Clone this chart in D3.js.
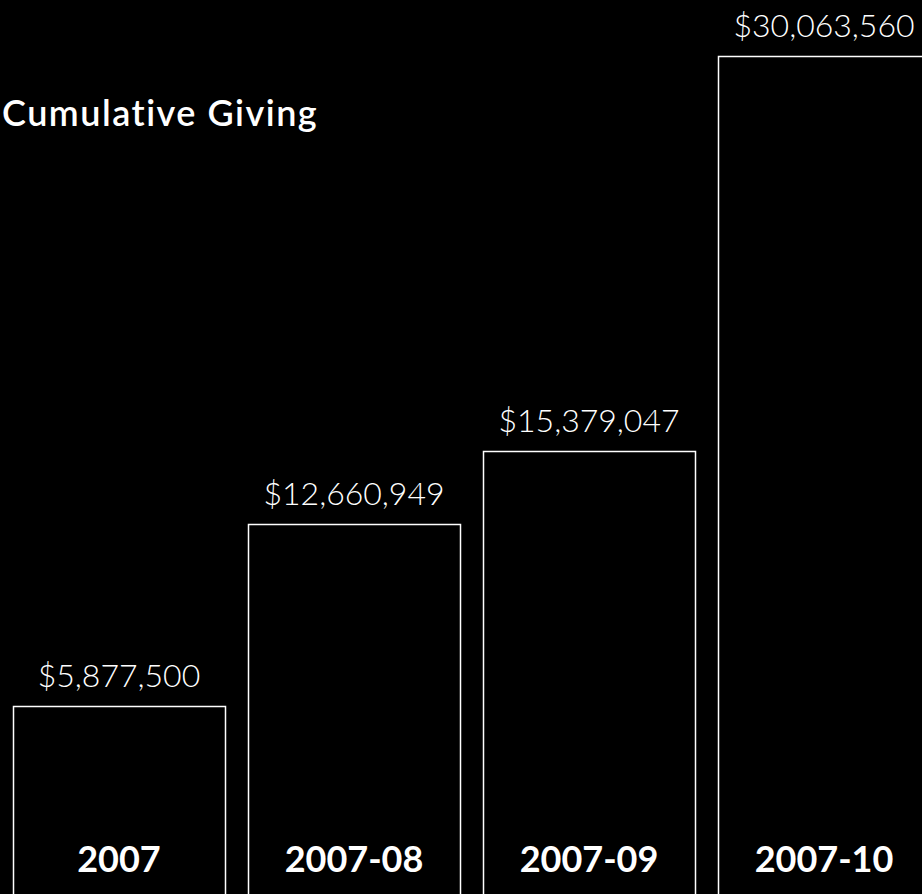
<!DOCTYPE html>
<html>
<head>
<meta charset="utf-8">
<script src="https://cdn.jsdelivr.net/npm/d3@7"></script>
<style>
  html, body { margin: 0; padding: 0; background: #000; }
  svg { display: block; }
</style>
</head>
<body>
<div id="chart"></div>
<script>
const categories = ["2007", "2007-08", "2007-09", "2007-10"];
const totals = [5877500, 12660949, 15379047, 30063560];
const valueLabels = ["$5,877,500", "$12,660,949", "$15,379,047", "$30,063,560"];

const width = 922, height = 894;

const svg = d3.select("#chart").append("svg")
  .attr("width", width)
  .attr("height", height)
  .style("background", "#000");

// last bar runs off the right edge, all bars run off the bottom
const x = d3.scaleBand()
  .domain(categories)
  .range([13, 930])
  .paddingInner(0.098)
  .paddingOuter(0);

const y = d3.scaleLinear()
  .domain([0, d3.max(totals)])
  .range([864, 56]);

const bottom = height + 20;

svg.append("text")
  .attr("x", 2)
  .attr("y", 126)
  .attr("fill", "#fff")
  .style("font-family", "Lato, 'Open Sans', sans-serif")
  .style("font-weight", 600)
  .style("font-size", "36px")
  .style("letter-spacing", "1.5px")
  .text("Cumulative Giving");

const bar = svg.append("g")
  .selectAll("g")
  .data(categories)
  .join("g");

bar.append("rect")
  .attr("x", d => Math.round(x(d)) + 0.5)
  .attr("y", (d, i) => Math.round(y(totals[i])) + 0.5)
  .attr("width", Math.round(x.bandwidth()))
  .attr("height", (d, i) => bottom - y(totals[i]))
  .attr("fill", "#000")
  .attr("stroke", "#fff")
  .attr("stroke-width", 1.5);

bar.append("text")
  .attr("x", d => x(d) + x.bandwidth() / 2)
  .attr("y", (d, i) => y(totals[i]) - 19)
  .attr("text-anchor", "middle")
  .attr("fill", "#fff")
  .style("font-family", "Lato, 'Open Sans', sans-serif")
  .style("font-weight", 300)
  .style("font-size", "32px")
  .text((d, i) => valueLabels[i]);

bar.append("text")
  .attr("x", d => x(d) + x.bandwidth() / 2)
  .attr("y", 872)
  .attr("text-anchor", "middle")
  .attr("fill", "#fff")
  .style("font-family", "Lato, 'Open Sans', sans-serif")
  .style("font-weight", 700)
  .style("font-size", "36px")
  .text(d => d);
</script>
</body>
</html>
